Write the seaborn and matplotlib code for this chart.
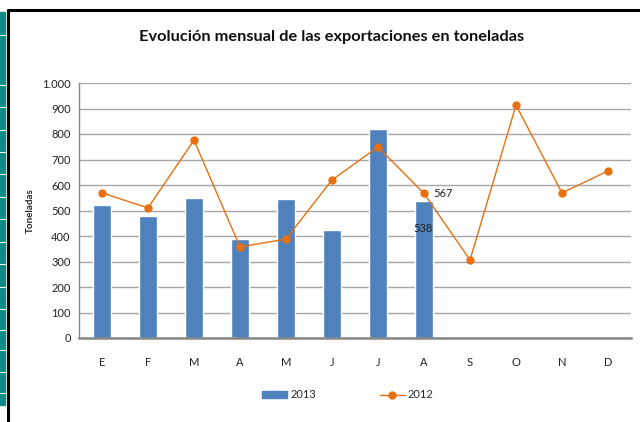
import numpy as np
import pandas as pd
import matplotlib
matplotlib.use("Agg")
import matplotlib.pyplot as plt
import seaborn as sns
from matplotlib.ticker import FuncFormatter, FixedLocator
from matplotlib.lines import Line2D
from matplotlib.patches import Patch, Rectangle

# --- Datos ---
meses = ['E', 'F', 'M', 'A', 'M', 'J', 'J', 'A', 'S', 'O', 'N', 'D']
ton_2013 = [521, 478, 549, 388, 545, 424, 820, 538, np.nan, np.nan, np.nan, np.nan]
ton_2012 = [569, 510, 776, 357, 388, 620, 749, 567, 306, 913, 569, 655]
titulo = 'Evolución mensual de las exportaciones en toneladas'

color_barra = '#4F81BD'
color_linea = '#E8700E'

sns.set_style("white")
plt.rcParams['font.family'] = ['Lato', 'DejaVu Sans']

df = pd.DataFrame({'pos': range(len(meses)), 'mes': meses, 't2013': ton_2013, 't2012': ton_2012})

fig = plt.figure(figsize=(6.4, 4.22), dpi=100)
ax = fig.add_axes([79 / 640, 1 - 338 / 422, 552 / 640, 255 / 422])

# barras 2013
sns.barplot(data=df, x='pos', y='t2013', color=color_barra, width=0.41,
            errorbar=None, saturation=1, ax=ax, zorder=2)
# linea 2012
ax.plot(df['pos'], df['t2012'], color=color_linea, lw=1, marker='o', ms=5, zorder=3)

# etiquetas de datos
ax.annotate(f"{ton_2012[7]}", (7, ton_2012[7]), xytext=(7, 0), textcoords='offset points',
            va='center', ha='left', fontsize=8, color='#222222')
ax.annotate(f"{int(ton_2013[7])}", (7, ton_2013[7]), xytext=(-1, -20), textcoords='offset points',
            va='center', ha='center', fontsize=8, color='#222222')

# ejes
ax.set_xlim(-0.5, 11.5)
ax.set_ylim(0, 1000)
ax.set_yticks(range(0, 1001, 100))
ax.yaxis.set_major_formatter(FuncFormatter(lambda v, p: f"{int(v):,}".replace(',', '.')))
ax.set_xticks(range(len(meses)))
ax.set_xticklabels(meses)
ax.xaxis.set_minor_locator(FixedLocator(np.arange(-0.5, 12, 1)))
ax.tick_params(axis='x', which='major', length=0, pad=14, labelsize=8, colors='#222222')
ax.tick_params(axis='x', which='minor', length=4, width=1, color='#868686', direction='out')
ax.tick_params(axis='y', which='major', length=3, width=1, labelsize=8, pad=3,
               colors='#868686', labelcolor='#222222')
ax.set_xlabel('')
ax.set_ylabel('Toneladas', fontsize=7, fontweight='bold')
ax.yaxis.set_label_coords((35 - 79) / 552, 0.5)

ax.grid(axis='y', color='#A6A6A6', lw=1, zorder=0)
ax.set_axisbelow(True)
for s in ['top', 'right']:
    ax.spines[s].set_visible(False)
ax.spines['bottom'].set_color('#868686')
ax.spines['bottom'].set_linewidth(1.8)
ax.spines['left'].set_color('#868686')
ax.spines['left'].set_linewidth(1)

fig.text(332 / 640, 1 - 37 / 422, titulo, ha='center', va='center', fontsize=11.8,
         fontweight='bold', color='#111111')

handles = [Patch(color=color_barra, label='2013'),
           Line2D([0], [0], color=color_linea, lw=1, marker='o', ms=5, label='2012')]
fig.legend(handles=handles, loc='center', bbox_to_anchor=(348 / 640, 1 - 395 / 422), ncol=2,
           frameon=False, fontsize=8, handlelength=2.2, handleheight=0.6, columnspacing=5.8,
           handletextpad=0.3)

# marco del grafico y celdas de la hoja
fig.patches.append(Rectangle((0, 1 - 405 / 422), 5 / 640, (405 - 12) / 422,
                             transform=fig.transFigure, color='#108A84', zorder=0))
for yy in [35, 85, 107, 130, 152, 174, 197, 219, 242, 264, 287, 309, 330, 350, 372, 393]:
    fig.lines.append(Line2D([0, 5 / 640], [1 - yy / 422] * 2, transform=fig.transFigure,
                            color='white', lw=0.8))
fig.lines.append(Line2D([8 / 640, 8 / 640], [0, 1 - 10 / 422], transform=fig.transFigure,
                        color='black', lw=2.2))
fig.lines.append(Line2D([8 / 640, 1], [1 - 10 / 422] * 2, transform=fig.transFigure,
                        color='black', lw=2.2))

fig.savefig('out.png', dpi=100)
